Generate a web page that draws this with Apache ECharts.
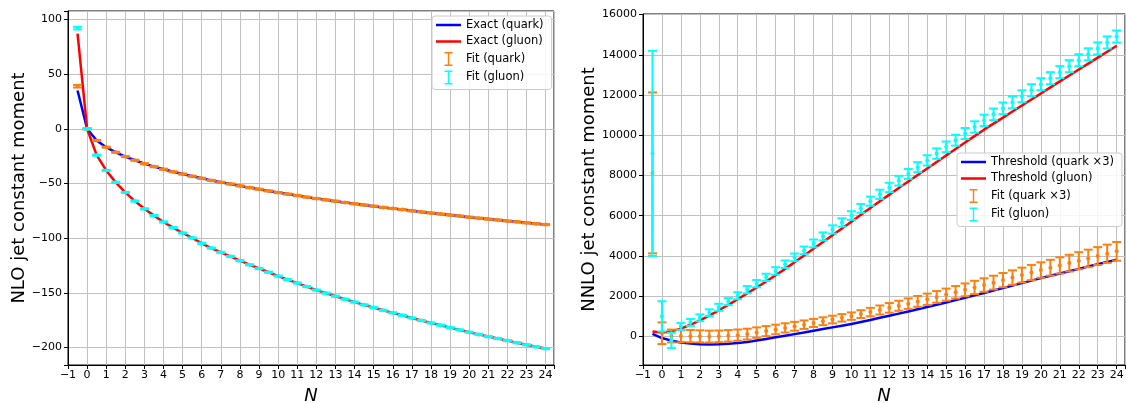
<html>
<head>
    <meta charset="utf-8">
    <title>NLO / NNLO jet constant moments</title>
    <style>
        html, body { margin: 0; padding: 0; background: #fff; }
        #chart { width: 1126px; height: 403px; }
    </style>
    <script src="https://cdn.jsdelivr.net/npm/echarts@6/dist/echarts.min.js"></script>
</head>
<body>
<div id="chart"></div>
<script>
    // N grid shared by both panels
    var nValues = [-0.5, 0, 0.5, 1, 1.5, 2, 2.5, 3, 3.5, 4, 4.5, 5, 5.5, 6, 6.5, 7, 7.5, 8, 8.5, 9, 9.5, 10,
        10.5, 11, 11.5, 12, 12.5, 13, 13.5, 14, 14.5, 15, 15.5, 16, 16.5, 17, 17.5, 18, 18.5, 19, 19.5, 20,
        20.5, 21, 21.5, 22, 22.5, 23, 23.5, 24];

    // left panel: NLO
    var nloExactQuark = [35, 0, -10.7, -16.8, -21.5, -25.4, -28.8, -31.9, -34.6, -37.0, -39.3, -41.4, -43.4, -45.3,
        -47.2, -48.9, -50.5, -52.2, -53.8, -55.3, -56.8, -58.3, -59.7, -61.1, -62.5, -63.8, -65.0, -66.2, -67.4,
        -68.6, -69.7, -70.8, -71.9, -72.9, -73.9, -75.0, -76.0, -77.0, -77.9, -78.9, -79.8, -80.8, -81.7, -82.6,
        -83.4, -84.3, -85.1, -86.0, -86.8, -87.6];
    var nloExactGluon = [87, 0, -24.1, -38.1, -49.0, -58.2, -66.1, -73.2, -79.4, -85.2, -90.4, -95.3, -99.8, -104.7,
        -109.1, -113.0, -116.7, -120.6, -124.3, -127.7, -131.2, -134.7, -137.9, -141.1, -144.3, -147.5, -150.3,
        -153.1, -155.8, -158.5, -161.0, -163.5, -166.0, -168.3, -170.6, -173.0, -175.3, -177.5, -179.6, -181.8,
        -183.9, -186.0, -188.0, -190.0, -191.8, -193.7, -195.6, -197.5, -199.3, -201.0];
    var nloFitQuark = [38.9, 0, -10.7, -16.8, -21.5, -25.4, -28.8, -31.9, -34.6, -37.0, -39.3, -41.4, -43.4, -45.3,
        -47.2, -48.9, -50.5, -52.2, -53.8, -55.3, -56.8, -58.3, -59.7, -61.1, -62.5, -63.8, -65.0, -66.2, -67.4,
        -68.6, -69.7, -70.8, -71.9, -72.9, -73.9, -75.0, -76.0, -77.0, -77.9, -78.9, -79.8, -80.8, -81.7, -82.6,
        -83.4, -84.3, -85.1, -86.0, -86.8, -87.6];
    var nloFitGluon = [92, 0, -24.1, -38.1, -49.0, -58.2, -66.1, -73.2, -79.4, -85.2, -90.4, -95.3, -99.8, -104.7,
        -109.1, -113.0, -116.7, -120.6, -124.3, -127.7, -131.2, -134.7, -137.9, -141.1, -144.3, -147.5, -150.3,
        -153.1, -155.8, -158.5, -161.0, -163.5, -166.0, -168.3, -170.6, -173.0, -175.3, -177.5, -179.6, -181.8,
        -183.9, -186.0, -188.0, -190.0, -191.8, -193.7, -195.6, -197.5, -199.3, -201.0];
    var nloFitErr = [1.2, 0.6, 0.5, 0.5, 0.5, 0.5, 0.5, 0.5, 0.5, 0.5, 0.5, 0.5, 0.5, 0.5, 0.5, 0.5, 0.5, 0.5, 0.5,
        0.5, 0.5, 0.5, 0.5, 0.5, 0.5, 0.5, 0.5, 0.5, 0.5, 0.5, 0.5, 0.5, 0.5, 0.5, 0.5, 0.5, 0.5, 0.5, 0.5, 0.5,
        0.5, 0.5, 0.5, 0.5, 0.5, 0.5, 0.5, 0.5, 0.5, 0.5];

    // right panel: NNLO
    var nnloThrQuark3 = [130, -80, -210, -300, -355, -385, -395, -385, -360, -325, -275, -200, -125, -45, 35, 115,
        195, 280, 365, 450, 535, 620, 720, 820, 925, 1030, 1135, 1240, 1350, 1460, 1575, 1690, 1805, 1920, 2040,
        2160, 2280, 2400, 2525, 2650, 2775, 2900, 3015, 3130, 3245, 3360, 3475, 3590, 3700, 3814];
    var nnloThrGluon = [250, 190, 250, 390, 580, 800, 1040, 1300, 1570, 1850, 2140, 2430, 2730, 3040, 3360, 3690,
        4025, 4360, 4695, 5030, 5365, 5700, 6045, 6390, 6720, 7050, 7375, 7700, 8025, 8350, 8675, 9000, 9320,
        9640, 9960, 10280, 10580, 10880, 11180, 11480, 11780, 12080, 12380, 12680, 12975, 13270, 13565, 13860,
        14155, 14450];
    var nnloFitQuark3 = [8130, 160, 20, 20, 15, 5, -5, 5, 30, 65, 115, 190, 265, 345, 425, 505, 585, 670, 755, 840,
        925, 1010, 1110, 1210, 1315, 1420, 1525, 1630, 1740, 1850, 1965, 2080, 2195, 2315, 2435, 2555, 2675, 2800,
        2925, 3050, 3175, 3300, 3415, 3530, 3645, 3765, 3880, 3995, 4110, 4230];
    var nnloFitQuark3Err = [4000, 540, 320, 310, 305, 300, 295, 290, 285, 280, 270, 260, 250, 240, 230, 220, 210,
        200, 195, 190, 185, 185, 195, 210, 225, 240, 250, 260, 270, 280, 290, 300, 310, 320, 330, 335, 345, 355,
        360, 370, 380, 385, 395, 405, 415, 425, 435, 445, 455, 465];
    var nnloFitGluon = [9100, 1000, -200, 493, 695, 926, 1178, 1449, 1731, 2022, 2324, 2625, 2937, 3258, 3590,
        3931, 4278, 4624, 4971, 5317, 5664, 6010, 6367, 6723, 7065, 7406, 7743, 8079, 8416, 8752, 9089, 9425,
        9757, 10088, 10415, 10740, 11040, 11340, 11640, 11940, 12240, 12540, 12840, 13140, 13435, 13730, 14025,
        14320, 14615, 14910];
    var nnloFitGluonErr = [5100, 750, 380, 170, 170, 170, 170, 175, 175, 175, 180, 180, 180, 185, 185, 190, 190,
        195, 200, 205, 210, 215, 220, 225, 230, 235, 240, 245, 250, 255, 260, 265, 270, 275, 280, 285, 290, 290,
        295, 295, 300, 300, 300, 300, 300, 300, 300, 300, 300, 300];

    var font = 'DejaVu Sans';
    var lineIcon = 'path://M0,0H50V5H0Z';
    var errIcon = 'path://M0,0H8V1.4H4.7V12.6H8V14H0V12.6H3.3V1.4H0Z';

    function pairs(xs, ys) {
        return xs.map(function (x, i) { return [x, ys[i]]; });
    }
    function triples(xs, ys, es) {
        return xs.map(function (x, i) { return [x, ys[i], es[i]]; });
    }
    function minusSign(v) {
        return String(v).replace('-', '\u2212');
    }
    function stepLabel(step) {
        return function (v) {
            return Math.abs(v / step - Math.round(v / step)) < 1e-6 ? minusSign(Math.round(v)) : '';
        };
    }

    // matplotlib style error bar: vertical line, two caps, small dot
    function errorBar(color, capW) {
        return function (params, api) {
            var x = api.value(0), y = api.value(1), e = api.value(2);
            var c = api.coord([x, y]);
            var hi = api.coord([x, y + e])[1];
            var lo = api.coord([x, y - e])[1];
            var st = { stroke: color, lineWidth: 2 };
            return {
                type: 'group',
                children: [
                    { type: 'line', shape: { x1: c[0], y1: hi, x2: c[0], y2: lo }, style: st },
                    { type: 'line', shape: { x1: c[0] - capW / 2, y1: hi, x2: c[0] + capW / 2, y2: hi }, style: st },
                    { type: 'line', shape: { x1: c[0] - capW / 2, y1: lo, x2: c[0] + capW / 2, y2: lo }, style: st },
                    { type: 'circle', shape: { cx: c[0], cy: c[1], r: 2 }, style: { fill: color } }
                ]
            };
        };
    }

    function xAxis(gridIndex) {
        return {
            type: 'value', gridIndex: gridIndex, min: -1, max: 24.44,
            minInterval: 1, maxInterval: 1,
            name: 'N', nameLocation: 'middle', nameGap: 22,
            nameTextStyle: { fontFamily: font, fontSize: 18, fontStyle: 'italic', color: '#000' },
            axisLine: { show: true, onZero: false, lineStyle: { color: '#000', width: 1 } },
            axisTick: { show: true, length: 4, lineStyle: { color: '#000' } },
            axisLabel: { fontFamily: font, fontSize: 11, color: '#000', margin: 5, formatter: stepLabel(1) },
            splitLine: { show: true, lineStyle: { color: '#c0c0c0', width: 1 } }
        };
    }
    function yAxis(gridIndex, min, max, step, name, gap) {
        return {
            type: 'value', gridIndex: gridIndex, min: min, max: max,
            minInterval: step, maxInterval: step,
            name: name, nameLocation: 'middle', nameGap: gap,
            nameTextStyle: { fontFamily: font, fontSize: 18, color: '#000' },
            axisLine: { show: true, onZero: false, lineStyle: { color: '#000', width: 1 } },
            axisTick: { show: true, length: 4, lineStyle: { color: '#000' } },
            axisLabel: { fontFamily: font, fontSize: 11, color: '#000', margin: 6, formatter: stepLabel(step) },
            splitLine: { show: true, lineStyle: { color: '#c0c0c0', width: 1 } }
        };
    }
    function lineSeries(name, xi, data, color) {
        return {
            name: name, type: 'line', xAxisIndex: xi, yAxisIndex: xi, data: data,
            showSymbol: false, symbol: 'none', color: color, z: 2, animation: false,
            lineStyle: { color: color, width: 2.5 }
        };
    }
    function errSeries(name, xi, data, color, capW) {
        return {
            name: name, type: 'custom', xAxisIndex: xi, yAxisIndex: xi, data: data,
            renderItem: errorBar(color, capW), itemStyle: { color: color }, z: 3, animation: false,
            encode: { x: 0, y: 1 }
        };
    }
    function legend(left, top, names, icons) {
        return {
            orient: 'vertical', left: left, top: top, itemWidth: 25, itemHeight: 14, itemGap: 4.5,
            padding: [3, 8, 5, 4], backgroundColor: 'rgba(255,255,255,0.85)',
            borderColor: '#cccccc', borderWidth: 1, borderRadius: 3,
            textStyle: { fontFamily: font, fontSize: 11.5, color: '#000' },
            selectedMode: false,
            data: names.map(function (n, i) { return { name: n, icon: icons[i] }; })
        };
    }

    var chart = echarts.init(document.getElementById('chart'), null, { renderer: 'canvas' });
    chart.setOption({
        backgroundColor: '#fff',
        animation: false,
        grid: [
            { left: 68, right: 572, top: 11, bottom: 38, show: true, borderColor: '#000', borderWidth: 1,
                backgroundColor: 'transparent', containLabel: false, outerBoundsMode: 'none' },
            { left: 643, right: 1, top: 14, bottom: 38, show: true, borderColor: '#000', borderWidth: 1,
                backgroundColor: 'transparent', containLabel: false, outerBoundsMode: 'none' }
        ],
        xAxis: [xAxis(0), xAxis(1)],
        yAxis: [
            yAxis(0, -216, 107.7, 50, 'NLO jet constant moment', 40),
            yAxis(1, -1420, 16030, 2000, 'NNLO jet constant moment', 43)
        ],
        legend: [
            legend(432, 16, ['Exact (quark)', 'Exact (gluon)', 'Fit (quark)', 'Fit (gluon)'],
                [lineIcon, lineIcon, errIcon, errIcon]),
            legend(957, 153, ['Threshold (quark \u00d73)', 'Threshold (gluon)', 'Fit (quark \u00d73)', 'Fit (gluon)'],
                [lineIcon, lineIcon, errIcon, errIcon])
        ],
        series: [
            lineSeries('Exact (quark)', 0, pairs(nValues, nloExactQuark), '#0000ff'),
            lineSeries('Exact (gluon)', 0, pairs(nValues, nloExactGluon), '#ff0000'),
            errSeries('Fit (quark)', 0, triples(nValues, nloFitQuark, nloFitErr), '#ff7f0e', 9),
            errSeries('Fit (gluon)', 0, triples(nValues, nloFitGluon, nloFitErr), '#00ffff', 9),
            lineSeries('Threshold (quark \u00d73)', 1, pairs(nValues, nnloThrQuark3), '#0000ff'),
            lineSeries('Threshold (gluon)', 1, pairs(nValues, nnloThrGluon), '#ff0000'),
            errSeries('Fit (quark \u00d73)', 1, triples(nValues, nnloFitQuark3, nnloFitQuark3Err), '#ff7f0e', 9),
            errSeries('Fit (gluon)', 1, triples(nValues, nnloFitGluon, nnloFitGluonErr), '#00ffff', 9)
        ]
    });
</script>
</body>
</html>
